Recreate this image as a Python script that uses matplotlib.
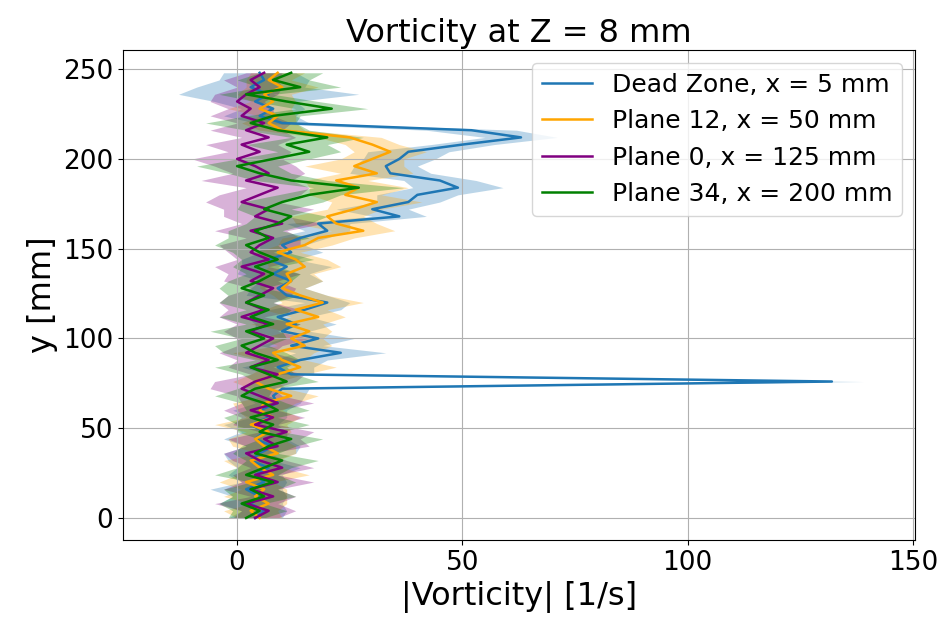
import numpy as np
import matplotlib
matplotlib.use("Agg")
import matplotlib.pyplot as plt

# y positions of the profile [mm]
y = np.arange(0, 250, 4)

labels = [
    "Dead Zone, x = 5 mm",
    "Plane 12, x = 50 mm",
    "Plane 0, x = 125 mm",
    "Plane 34, x = 200 mm",
]
colors = ["tab:blue", "orange", "purple", "green"]

# mean |vorticity| [1/s]
dz_mean = [4, 6, 3, 5, 2, 6, 4, 7, 3, 5, 8, 4, 6, 3, 7, 5, 9, 8, 10, 132,
           12, 9, 14, 23, 12, 18, 10, 13, 9, 15, 20, 11, 9, 12, 8, 11, 7, 12,
           10, 14, 20, 18, 36, 30, 38, 40, 49, 45, 34, 33, 36, 38, 50, 63, 52,
           10, 5, 8, 4, 7, 3, 6, 5]
p12_mean = [5, 3, 7, 4, 6, 2, 8, 5, 3, 9, 6, 4, 7, 3, 8, 5, 6, 12, 7, 4,
            9, 14, 10, 8, 15, 12, 16, 11, 18, 13, 19, 14, 10, 12, 11, 15, 13, 9,
            15, 18, 28, 22, 20, 26, 31, 24, 27, 22, 31, 26, 30, 34, 30, 25, 10,
            7, 9, 5, 8, 6, 10, 7, 9]
p0_mean = [4, 7, 2, 8, 3, 9, 4, 10, 5, 2, 9, 6, 11, 4, 8, 3, 9, 5, 1, 4,
           9, 3, 7, 2, 5, 8, 3, 7, 1, 6, 2, 5, 8, 3, 6, 1, 7, 3, 5, 8,
           3, 10, 4, 7, 1, 5, 9, 2, 7, 4, 0, 5, 1, 7, 2, 6, 1, 3, 0, 2,
           5, 3, 6]
p34_mean = [2, 5, 1, 6, 3, 8, 2, 6, 10, 4, 7, 12, 5, 8, 3, 9, 6, 1, 4, 11,
            7, 3, 9, 4, 1, 6, 2, 8, 3, 7, 2, 6, 1, 5, 8, 4, 9, 5, 2, 7,
            4, 9, 12, 6, 10, 16, 27, 12, 5, 0, 8, 16, 11, 20, 9, 3, 8, 21, 11, 2,
            14, 8, 12]

# standard deviation [1/s]
dz_std = [6, 5, 7, 6, 8, 5, 6, 7, 5, 8, 6, 7, 5, 6, 4, 6, 5, 7, 6, 7,
          5, 8, 6, 10, 7, 8, 6, 9, 7, 8, 5, 9, 6, 7, 8, 10, 6, 7, 5, 6,
          5, 7, 6, 8, 7, 9, 10, 8, 9, 7, 8, 9, 7, 8, 10, 6, 8, 7, 9, 20,
          12, 10, 8]
p12_std = [5, 6, 4, 7, 5, 6, 8, 5, 6, 4, 7, 6, 5, 8, 6, 5, 7, 6, 4, 5,
           6, 8, 5, 9, 6, 7, 5, 8, 6, 7, 9, 6, 5, 7, 6, 8, 7, 5, 6, 8,
           7, 9, 8, 6, 10, 8, 11, 7, 8, 11, 7, 8, 6, 7, 5, 6, 4, 7, 5, 6,
           8, 5, 6]
p0_std = [5, 6, 7, 5, 6, 8, 5, 7, 6, 5, 7, 8, 6, 5, 7, 6, 8, 5, 7, 9,
          6, 5, 7, 6, 5, 8, 6, 7, 5, 8, 6, 7, 5, 6, 8, 6, 7, 5, 9, 6,
          8, 9, 7, 10, 8, 9, 7, 10, 8, 9, 10, 7, 8, 6, 8, 6, 7, 5, 6, 7,
          5, 6, 4]
p34_std = [4, 6, 5, 7, 6, 5, 7, 6, 8, 5, 6, 7, 5, 8, 6, 7, 5, 6, 4, 7,
           6, 8, 5, 7, 6, 5, 8, 6, 7, 5, 6, 8, 5, 7, 6, 5, 8, 6, 7, 9,
           6, 7, 8, 6, 9, 7, 10, 8, 7, 9, 8, 7, 9, 8, 7, 10, 6, 8, 7, 6,
           9, 8, 7]

means = [dz_mean, p12_mean, p0_mean, p34_mean]
stds = [dz_std, p12_std, p0_std, p34_std]

fig = plt.figure(figsize=(9.47, 6.27), dpi=100)
ax = fig.add_axes([0.130, 0.139, 0.836, 0.781])

for m, s, c, lab in zip(means, stds, colors, labels):
    m = np.array(m, dtype=float)
    s = np.array(s, dtype=float)
    ax.plot(m, y, color=c, lw=1.8, label=lab)
    ax.fill_betweenx(y, m - s, m + s, color=c, alpha=0.3, lw=0)

ax.set_xlim(-25.3, 150.4)
ax.set_ylim(-12.2, 260.6)
ax.set_xticks([0, 50, 100, 150])
ax.set_yticks([0, 50, 100, 150, 200, 250])
ax.grid(True)
ax.tick_params(labelsize=19)

ax.set_title("Vorticity at Z = 8 mm", fontsize=23)
ax.set_xlabel("|Vorticity| [1/s]", fontsize=23)
ax.set_ylabel("y [mm]", fontsize=23)
ax.legend(loc="upper right", fontsize=18)

fig.savefig("out.png", dpi=100)
